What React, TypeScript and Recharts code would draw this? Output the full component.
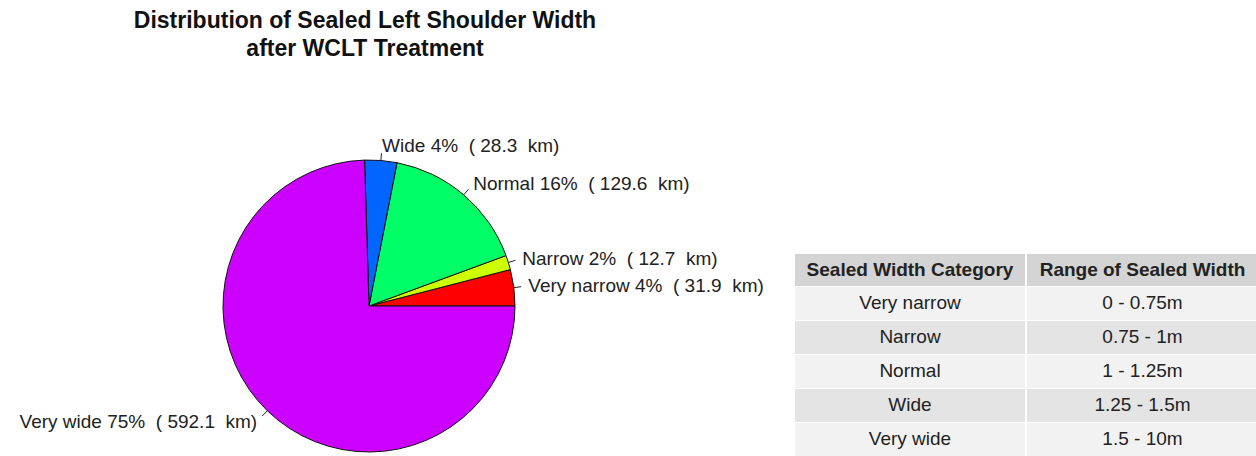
import { PieChart, Pie, Cell } from "recharts";

const categories = ["Very narrow", "Narrow", "Normal", "Wide", "Very wide"];
const lengthsKm = [31.9, 12.7, 129.6, 28.3, 592.1];
const sliceColors = ["#FF0000", "#CCFF00", "#00FF66", "#0066FF", "#CC00FF"];

const rangeCategories = ["Very narrow", "Narrow", "Normal", "Wide", "Very wide"];
const rangeValues = ["0 - 0.75m", "0.75 - 1m", "1 - 1.25m", "1.25 - 1.5m", "1.5 - 10m"];

const FONT = '"Liberation Sans", Arial, sans-serif';
const RADIAN = Math.PI / 180;

const total = lengthsKm.reduce((a, b) => a + b, 0);
const pieData = categories.map((name, i) => ({
  name,
  value: lengthsKm[i],
  pct: Math.round((lengthsKm[i] / total) * 100),
}));

function SliceLabel(props: any) {
  const { cx, cy, midAngle, outerRadius, payload } = props;
  const cos = Math.cos(-midAngle * RADIAN);
  const sin = Math.sin(-midAngle * RADIAN);
  const x1 = cx + outerRadius * cos;
  const y1 = cy + outerRadius * sin;
  const x2 = cx + outerRadius * 1.05 * cos;
  const y2 = cy + outerRadius * 1.05 * sin;
  const tx = cx + outerRadius * 1.1 * cos;
  const ty = cy + outerRadius * 1.1 * sin;
  const d = payload?.payload ?? payload;
  const text = `${d.name} ${d.pct}%  ( ${d.value.toFixed(1)}  km)`;
  return (
    <g>
      <line x1={x1} y1={y1} x2={x2} y2={y2} stroke="#222" strokeWidth={1} />
      <text
        x={tx}
        y={ty}
        textAnchor={cos >= 0 ? "start" : "end"}
        dominantBaseline="central"
        fill="#222"
        fontSize={19}
        fontFamily={FONT}
        style={{ whiteSpace: "pre" }}
      >
        {text}
      </text>
    </g>
  );
}

export default function App() {
  const rowBg = ["#f2f2f2", "#e4e4e4"];
  return (
    <div
      style={{
        position: "absolute",
        left: 0,
        top: 0,
        width: 1256,
        height: 456,
        background: "#fff",
        fontFamily: FONT,
        overflow: "hidden",
      }}
    >
      <div
        style={{
          position: "absolute",
          left: 65,
          top: 6,
          width: 600,
          textAlign: "center",
          fontWeight: "bold",
          fontSize: 23,
          lineHeight: "28px",
          color: "#111",
        }}
      >
        Distribution of Sealed Left Shoulder Width
        <br />
        after WCLT Treatment
      </div>

      <div style={{ position: "absolute", left: 0, top: 0 }}>
        <PieChart width={1256} height={456} margin={{ top: 0, right: 0, bottom: 0, left: 0 }}>
          <Pie
            data={pieData}
            dataKey="value"
            nameKey="name"
            cx={369}
            cy={306}
            outerRadius={146}
            startAngle={0}
            endAngle={360}
            stroke="#111"
            strokeWidth={1}
            label={SliceLabel}
            labelLine={false}
            isAnimationActive={false}
          >
            {pieData.map((_, i) => (
              <Cell key={i} fill={sliceColors[i]} />
            ))}
          </Pie>
        </PieChart>
      </div>

      <table
        style={{
          position: "absolute",
          left: 795,
          top: 254,
          width: 463,
          borderCollapse: "collapse",
          fontFamily: FONT,
          color: "#222",
        }}
      >
        <thead>
          <tr style={{ height: 32, background: "#d4d4d4" }}>
            <th style={{ width: 230, fontSize: 19, borderRight: "2px solid #fff", padding: 0 }}>
              Sealed Width Category
            </th>
            <th style={{ fontSize: 19, padding: 0 }}>Range of Sealed Width</th>
          </tr>
        </thead>
        <tbody>
          {rangeCategories.map((c, i) => (
            <tr
              key={c}
              style={{ height: 34, background: rowBg[i % 2], borderTop: "1px solid #fff" }}
            >
              <td
                style={{
                  textAlign: "center",
                  fontSize: 19,
                  borderRight: "2px solid #fff",
                  padding: 0,
                }}
              >
                {c}
              </td>
              <td style={{ textAlign: "center", fontSize: 19, padding: 0 }}>{rangeValues[i]}</td>
            </tr>
          ))}
        </tbody>
      </table>
    </div>
  );
}
